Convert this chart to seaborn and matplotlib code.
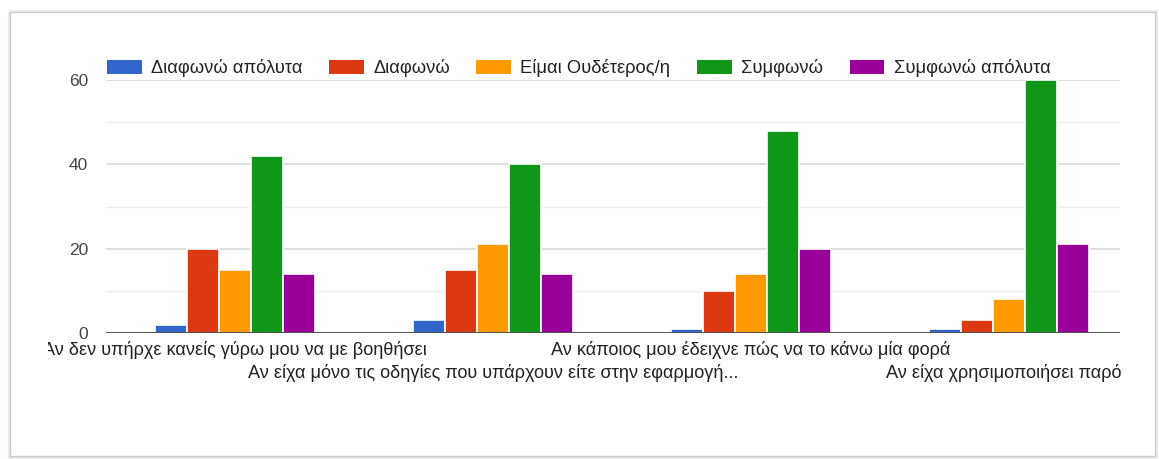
import matplotlib
matplotlib.use("Agg")
import matplotlib.pyplot as plt
from matplotlib.patches import Patch, Rectangle
from matplotlib.transforms import Bbox
import pandas as pd
import seaborn as sns

# Survey statements (x categories)
questions = [
    "Αν δεν υπήρχε κανείς γύρω μου να με βοηθήσει",
    "Αν είχα μόνο τις οδηγίες που υπάρχουν είτε στην εφαρμογή...",
    "Αν κάποιος μου έδειχνε πώς να το κάνω μία φορά",
    "Αν είχα χρησιμοποιήσει παρόμ",
]
# Likert responses (series)
responses = ["Διαφωνώ απόλυτα", "Διαφωνώ", "Είμαι Ουδέτερος/η", "Συμφωνώ", "Συμφωνώ απόλυτα"]
colors = ["#3366CC", "#DC3912", "#FF9900", "#109618", "#990099"]

# Counts per response, one value per statement
disagree_strong = [2, 3, 1, 1]
disagree = [20, 15, 10, 3]
neutral = [15, 21, 14, 8]
agree = [42, 40, 48, 60]
agree_strong = [14, 14, 20, 21]
series = [disagree_strong, disagree, neutral, agree, agree_strong]

y_ticks = [0, 20, 40, 60]
y_minor = [10, 30, 50]

rows = []
for resp, vals in zip(responses, series):
    for q, v in zip(questions, vals):
        rows.append({"question": q, "response": resp, "count": v})
df = pd.DataFrame(rows)

plt.rcParams["font.family"] = ["Liberation Sans", "DejaVu Sans"]

W, H = 1159, 459
fig = plt.figure(figsize=(W / 100, H / 100), dpi=100)
fig.patch.set_facecolor("white")

# card frame with a soft shadow
fig.patches.append(Rectangle((10 / W, 2 / H), 1146 / W, 445 / H, transform=fig.transFigure,
                             facecolor="none", edgecolor="#ececec", linewidth=3.0, zorder=-3))
fig.patches.append(Rectangle((10 / W, 3 / H), 1145 / W, 444 / H, transform=fig.transFigure,
                             facecolor="white", edgecolor="#cccccc", linewidth=1.0, zorder=-2))

ax = fig.add_axes([106 / W, 126 / H, (1120 - 106) / W, (333 - 80) / H], zorder=2)
ax.set_facecolor("none")

sns.barplot(data=df, x="question", y="count", hue="response", order=questions,
            hue_order=responses, palette=colors, saturation=1, width=0.62,
            edgecolor="white", linewidth=1.2, legend=False, ax=ax, zorder=3)

ax.set_xlim(-0.5, (1120 - 106) / 258 - 0.5)
ax.set_ylim(0, 60)
ax.set_yticks(y_ticks)
ax.set_yticks(y_minor, minor=True)
ax.tick_params(axis="y", which="both", length=0, pad=13, labelsize=12.5, labelcolor="#444444")
ax.tick_params(axis="x", length=0, pad=5, labelsize=13.1, labelcolor="#222222")
for t in y_ticks[1:]:
    ax.axhline(t, color="#d9d9d9", linewidth=1.2, zorder=1)
for t in y_minor:
    ax.axhline(t, color="#eeeeee", linewidth=1.0, zorder=1)
ax.axhline(0, color="#333333", linewidth=1.2, zorder=4)
for s in ax.spines.values():
    s.set_visible(False)
ax.set_xlabel("")
ax.set_ylabel("")

# staggered category labels, clipped to the chart area
ax.set_xticks(range(len(questions)))
ax.set_xticklabels(questions)
for i, tick in enumerate(ax.xaxis.get_major_ticks()):
    tick.set_pad(6 if i % 2 == 0 else 22)
clip = Bbox.from_extents(48, 0, 1121, H)
for lab in ax.get_xticklabels():
    lab.set_clip_on(True)
    lab.set_clip_box(clip)

handles = [Patch(facecolor=c, edgecolor="none") for c in colors]
fig.legend(handles, responses, loc="center left", bbox_to_anchor=(107 / W, 1 - 68 / H),
           bbox_transform=fig.transFigure, ncol=5, frameon=False, fontsize=13.2,
           handlelength=1.9, handleheight=0.8, handletextpad=0.5, columnspacing=1.45,
           borderpad=0, borderaxespad=0, labelcolor="#222222")

fig.savefig("out.png", dpi=100)
